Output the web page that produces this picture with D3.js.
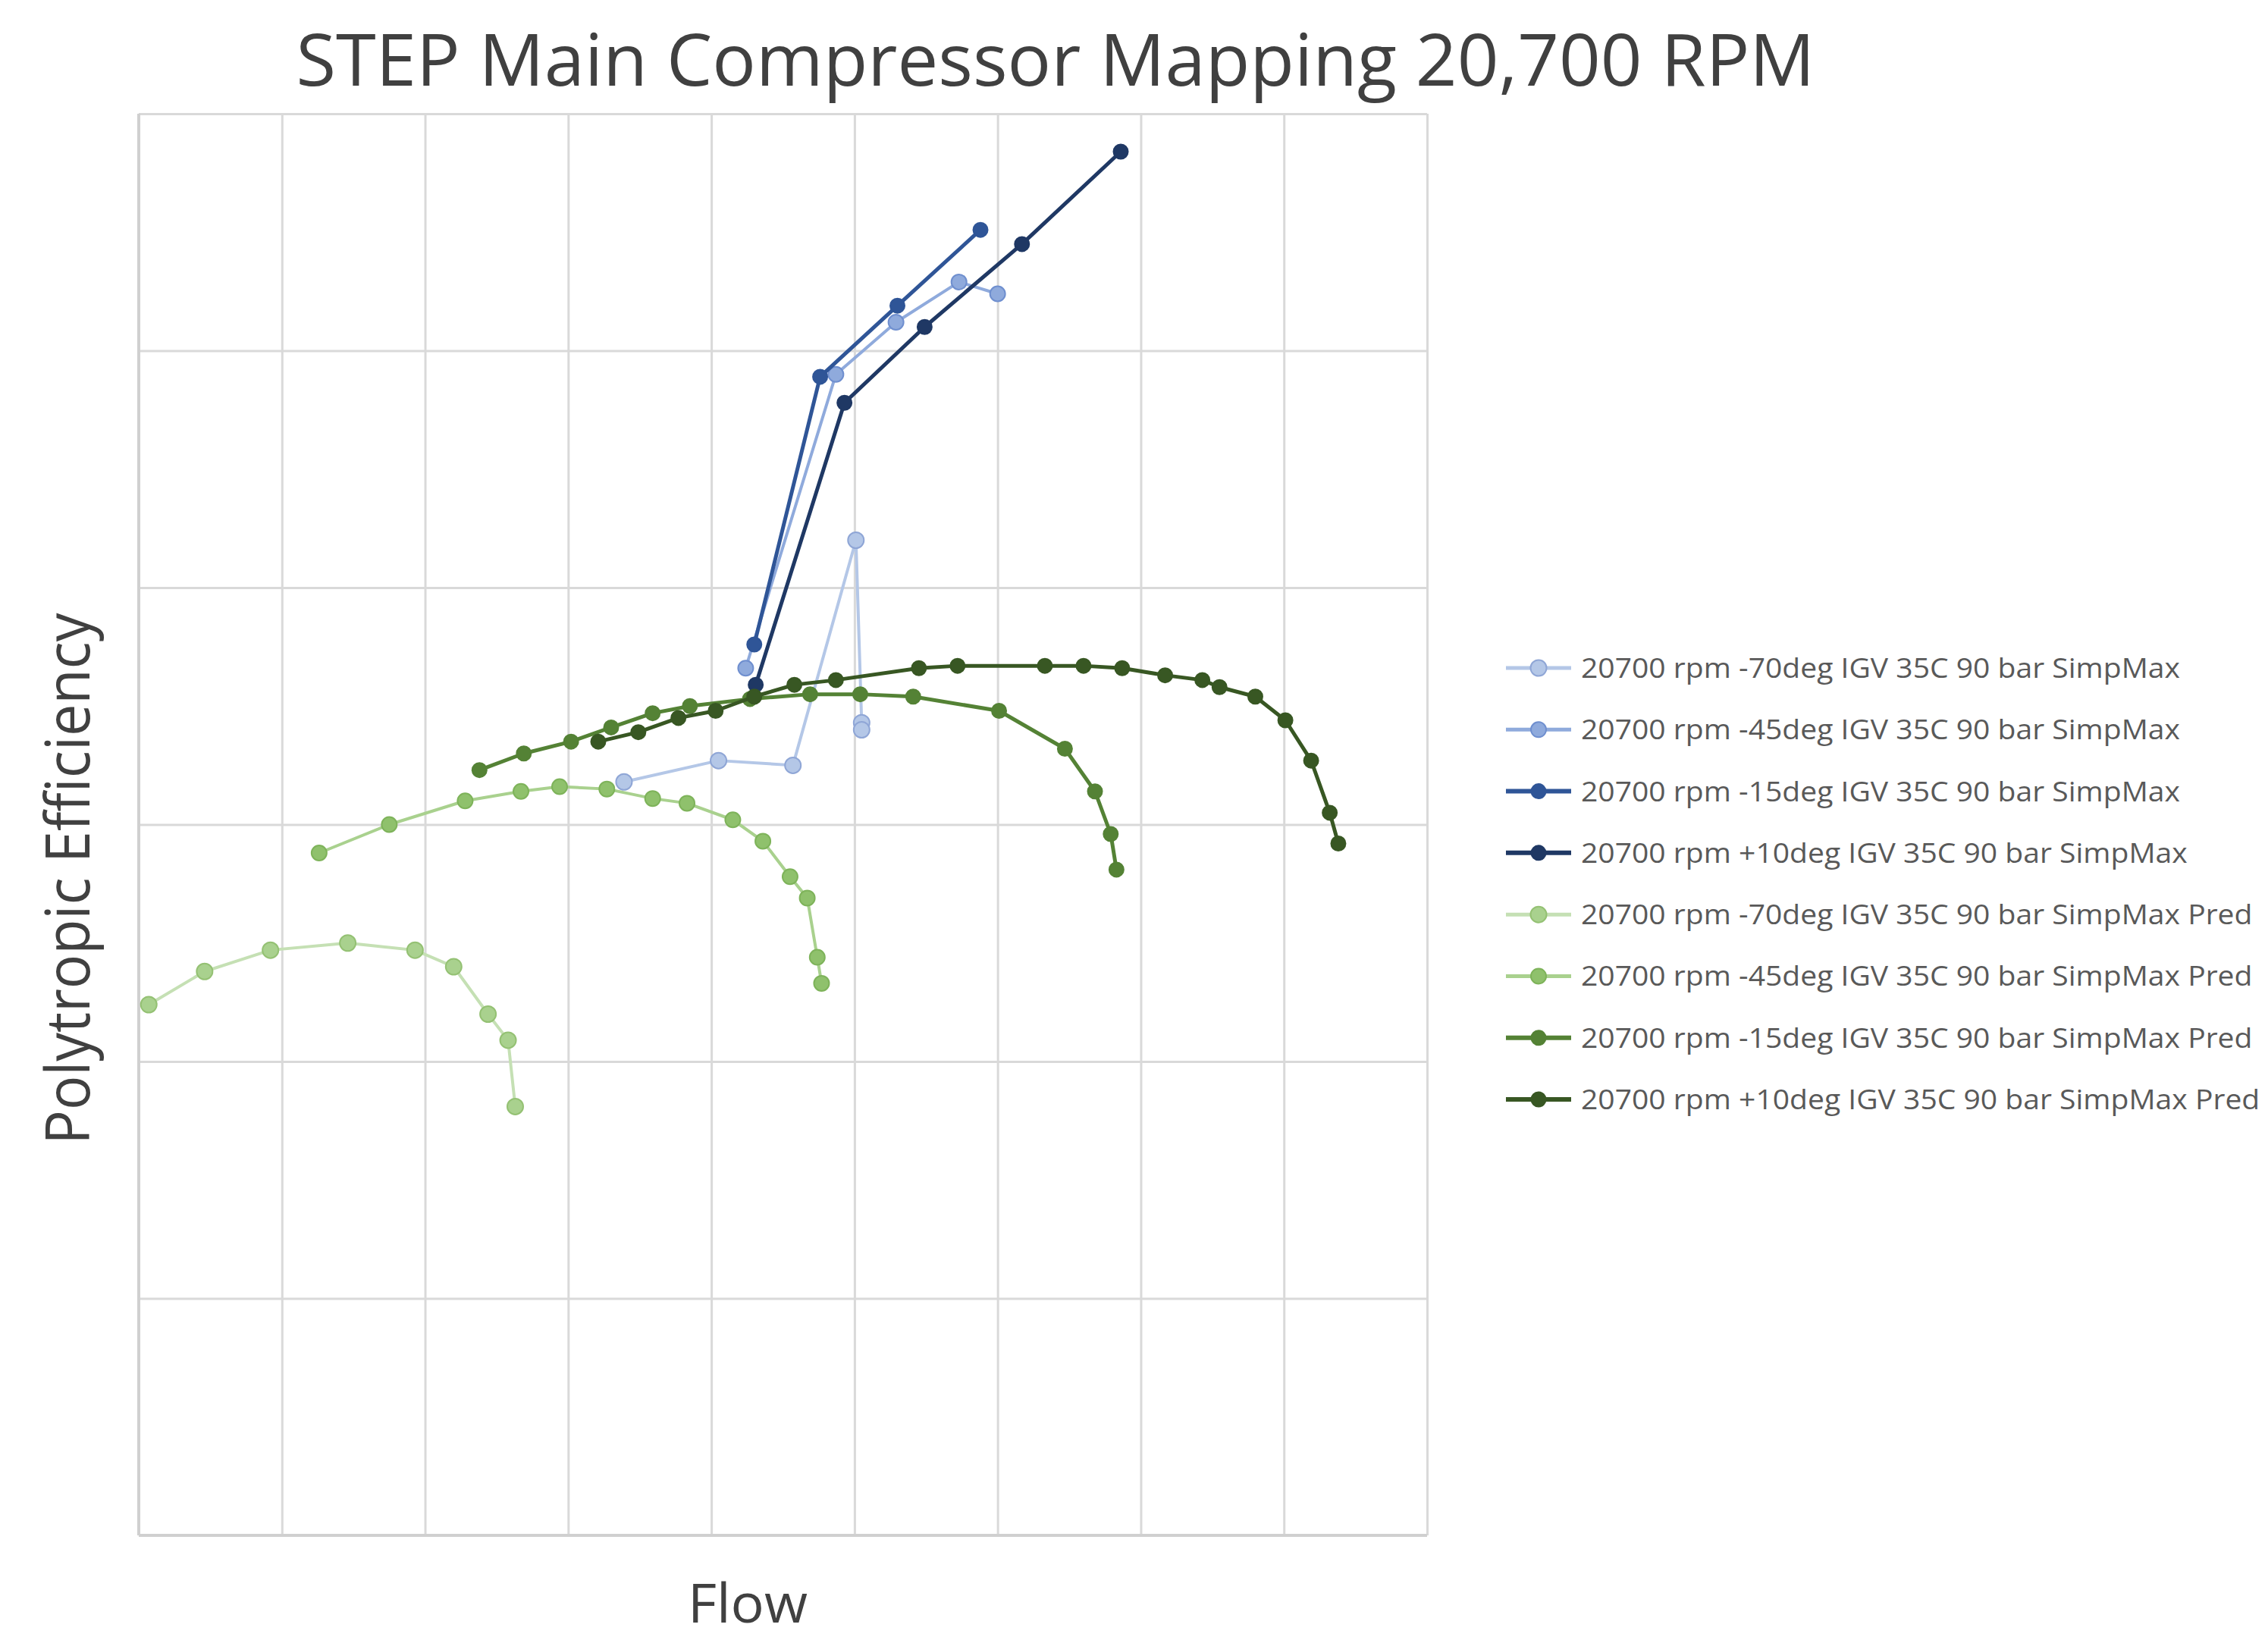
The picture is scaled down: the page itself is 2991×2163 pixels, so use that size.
<!DOCTYPE html>
<html lang="en">
<head>
  <meta charset="UTF-8" />
  <title>STEP Main Compressor Mapping 20,700 RPM</title>
  <style>
    body { margin: 0; background: #fff; }
    svg text { font-family: 'Open Sans', sans-serif; }
    .grid line { stroke: #d9d9d9; stroke-width: 3px; }
    .grid path { display: none; }
  </style>
</head>
<body>
  <svg id="chart" width="2991" height="2163"></svg>

  <script src="https://d3js.org/d3.v7.min.js"></script>
  <script>
    // grid units: 9 flow divisions, 6 efficiency divisions (no tick labels on the original)
    const xTicks = d3.range(0, 10);
    const yTicks = d3.range(0, 7);

    // measured test data [flow, efficiency]
    const simp70 = [[3.39, 3.18], [4.05, 3.27], [4.57, 3.25], [5.01, 4.20], [5.05, 3.43], [5.05, 3.40]];
    const simp45 = [[4.24, 3.66], [4.87, 4.90], [5.29, 5.12], [5.73, 5.29], [6.00, 5.24]];
    const simp15 = [[4.30, 3.76], [4.76, 4.89], [5.30, 5.19], [5.88, 5.51]];
    const simpP10 = [[4.31, 3.59], [4.93, 4.78], [5.49, 5.10], [6.17, 5.45], [6.86, 5.84]];

    // predicted curves
    const pred70 = [[0.07, 2.24], [0.46, 2.38], [0.92, 2.47], [1.46, 2.50], [1.93, 2.47], [2.20, 2.40],
      [2.44, 2.20], [2.58, 2.09], [2.63, 1.81]];
    const pred45 = [[1.26, 2.88], [1.75, 3.00], [2.28, 3.10], [2.67, 3.14], [2.94, 3.16], [3.27, 3.15],
      [3.59, 3.11], [3.83, 3.09], [4.15, 3.02], [4.36, 2.93], [4.55, 2.78], [4.67, 2.69], [4.74, 2.44], [4.77, 2.33]];
    const pred15 = [[2.38, 3.23], [2.69, 3.30], [3.02, 3.35], [3.30, 3.41], [3.59, 3.47], [3.85, 3.50],
      [4.27, 3.53], [4.69, 3.55], [5.04, 3.55], [5.41, 3.54], [6.01, 3.48], [6.47, 3.32], [6.68, 3.14],
      [6.79, 2.96], [6.83, 2.81]];
    const predP10 = [[3.21, 3.35], [3.49, 3.39], [3.77, 3.45], [4.03, 3.48], [4.30, 3.54], [4.58, 3.59],
      [4.87, 3.61], [5.45, 3.66], [5.72, 3.67], [6.33, 3.67], [6.60, 3.67], [6.87, 3.66], [7.17, 3.63],
      [7.43, 3.61], [7.55, 3.58], [7.80, 3.54], [8.01, 3.44], [8.19, 3.27], [8.32, 3.05], [8.38, 2.92]];

    const seriesNames = [
      "20700 rpm -70deg IGV 35C 90 bar SimpMax",
      "20700 rpm -45deg IGV 35C 90 bar SimpMax",
      "20700 rpm -15deg IGV 35C 90 bar SimpMax",
      "20700 rpm +10deg IGV 35C 90 bar SimpMax",
      "20700 rpm -70deg IGV 35C 90 bar SimpMax Pred",
      "20700 rpm -45deg IGV 35C 90 bar SimpMax Pred",
      "20700 rpm -15deg IGV 35C 90 bar SimpMax Pred",
      "20700 rpm +10deg IGV 35C 90 bar SimpMax Pred"
    ];
    const seriesData = [simp70, simp45, simp15, simpP10, pred70, pred45, pred15, predP10];

    // line colour, marker fill, marker stroke, line width, marker radius
    const styles = [
      { line: "#b4c7e7", fill: "#b4c7e7", stroke: "#8fa6d6", w: 4, r: 10.5 },
      { line: "#8faadc", fill: "#8faadc", stroke: "#6f8fcf", w: 4, r: 10 },
      { line: "#2f5597", fill: "#2f5597", stroke: "#2f5597", w: 5, r: 9.5 },
      { line: "#1f3864", fill: "#1f3864", stroke: "#1f3864", w: 5, r: 9.5 },
      { line: "#c5e0b4", fill: "#a9d18e", stroke: "#94c173", w: 4, r: 10.5 },
      { line: "#a9d18e", fill: "#8fc16c", stroke: "#7eb35a", w: 4, r: 10 },
      { line: "#548235", fill: "#548235", stroke: "#548235", w: 5, r: 9.5 },
      { line: "#385723", fill: "#385723", stroke: "#385723", w: 5, r: 9.5 }
    ];

    const svg = d3.select("#chart");
    const plotLeft = 183, plotRight = 1882, plotTop = 150, plotBottom = 2025;

    const x = d3.scaleLinear().domain([0, 9]).range([plotLeft, plotRight]);
    const y = d3.scaleLinear().domain([0, 6]).range([plotBottom, plotTop]);

    // gridlines
    svg.append("g").attr("class", "grid")
      .attr("transform", `translate(0,${plotBottom})`)
      .call(d3.axisBottom(x).tickValues(xTicks).tickSize(-(plotBottom - plotTop)).tickFormat(""));
    svg.append("g").attr("class", "grid")
      .attr("transform", `translate(${plotLeft},0)`)
      .call(d3.axisLeft(y).tickValues(yTicks).tickSize(-(plotRight - plotLeft)).tickFormat(""));
    // axis lines a touch heavier
    svg.append("line").attr("x1", plotLeft).attr("x2", plotRight).attr("y1", plotBottom).attr("y2", plotBottom)
      .attr("stroke", "#d0d0d0").attr("stroke-width", 4);
    svg.append("line").attr("x1", plotLeft).attr("x2", plotLeft).attr("y1", plotTop).attr("y2", plotBottom)
      .attr("stroke", "#d0d0d0").attr("stroke-width", 4);

    const line = d3.line().x(d => x(d[0])).y(d => y(d[1]));

    seriesData.forEach((data, i) => {
      const s = styles[i];
      const g = svg.append("g");
      g.append("path").datum(data)
        .attr("d", line)
        .attr("fill", "none")
        .attr("stroke", s.line)
        .attr("stroke-width", s.w)
        .attr("stroke-linejoin", "round");
      g.selectAll("circle").data(data).enter().append("circle")
        .attr("cx", d => x(d[0])).attr("cy", d => y(d[1]))
        .attr("r", s.r)
        .attr("fill", s.fill)
        .attr("stroke", s.stroke)
        .attr("stroke-width", 2);
    });

    // condensed look (Calibri-like) via textLength
    function squeeze(sel, target) {
      sel.attr("textLength", target).attr("lengthAdjust", "spacingAndGlyphs");
    }

    const title = svg.append("text")
      .attr("x", 1392).attr("y", 113)
      .attr("text-anchor", "middle")
      .attr("font-size", 96)
      .attr("fill", "#404040")
      .text("STEP Main Compressor Mapping 20,700 RPM");
    squeeze(title, 2003);

    const xLabel = svg.append("text")
      .attr("x", 986).attr("y", 2140)
      .attr("text-anchor", "middle")
      .attr("font-size", 72)
      .attr("fill", "#404040")
      .text("Flow");
    squeeze(xLabel, 158);

    const yLabel = svg.append("text")
      .attr("transform", "translate(118,1159) rotate(-90)")
      .attr("text-anchor", "middle")
      .attr("font-size", 80)
      .attr("fill", "#404040")
      .text("Polytropic Efficiency");
    squeeze(yLabel, 701);

    // legend
    const legend = svg.append("g");
    const rowY = d3.scaleLinear().domain([0, 7]).range([881, 1450]);
    let factor = null;
    seriesNames.forEach((name, i) => {
      const s = styles[i];
      const cy = rowY(i);
      legend.append("line").attr("x1", 1986).attr("x2", 2072).attr("y1", cy).attr("y2", cy)
        .attr("stroke", s.line).attr("stroke-width", s.w + 1);
      legend.append("circle").attr("cx", 2029).attr("cy", cy).attr("r", s.r)
        .attr("fill", s.fill).attr("stroke", s.stroke).attr("stroke-width", 2);
      const t = legend.append("text")
        .attr("x", 2085).attr("y", cy + 13)
        .attr("font-size", 37)
        .attr("fill", "#595959")
        .text(name);
      const w = t.node().getComputedTextLength();
      if (factor === null) factor = 790 / w;
      t.attr("textLength", w * factor).attr("lengthAdjust", "spacingAndGlyphs");
    });
  </script>
</body>
</html>
